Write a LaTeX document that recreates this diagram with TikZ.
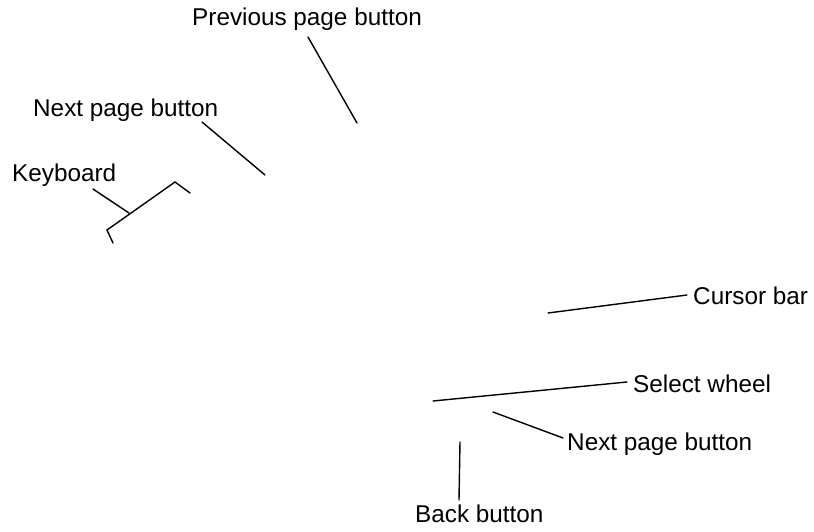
\documentclass[tikz,border=0pt]{standalone}
\usepackage{fontspec}
\setmainfont{Liberation Sans}
\begin{document}
\begin{tikzpicture}[x=1pt,y=-1pt,
  lbl/.style={anchor=base west,inner sep=0pt,font=\fontsize{24.3}{29}\selectfont},
  leader/.style={line width=1.4pt,line cap=round,line join=miter}]
\useasboundingbox (0,0) rectangle (814,532);
% labels
\node[lbl] (prev) at (192,26) {Previous page button};
\node[lbl] (nexttop) at (33,117) {Next page button};
\node[lbl] (kbd) at (12,182) {Keyboard};
\node[lbl] (cursor) at (693,304) {Cursor bar};
\node[lbl] (select) at (633,392) {Select wheel};
\node[lbl] (nextbot) at (567,450) {Next page button};
\node[lbl] (back) at (415,522) {Back button};
% leader end points
\coordinate (p1) at (308,37);  \coordinate (p2) at (357,123);
\coordinate (n1) at (202,122); \coordinate (n2) at (265,175);
\coordinate (k1) at (93,189);  \coordinate (k2) at (129,213);
\coordinate (b1) at (190,193); \coordinate (b2) at (175,182);
\coordinate (b3) at (107,230); \coordinate (b4) at (113,243);
\coordinate (c1) at (548,313); \coordinate (c2) at (687,295);
\coordinate (s1) at (433,401); \coordinate (s2) at (627,382);
\coordinate (q1) at (493,412); \coordinate (q2) at (563,438);
\coordinate (r1) at (460,442); \coordinate (r2) at (459,500);
% leaders
\draw[leader] (p1) -- (p2);
\draw[leader] (n1) -- (n2);
\draw[leader] (k1) -- (k2);
\draw[leader] (b1) -- (b2) -- (b3) -- (b4);
\draw[leader] (c1) -- (c2);
\draw[leader] (s1) -- (s2);
\draw[leader] (q1) -- (q2);
\draw[leader] (r1) -- (r2);
\end{tikzpicture}
\end{document}
